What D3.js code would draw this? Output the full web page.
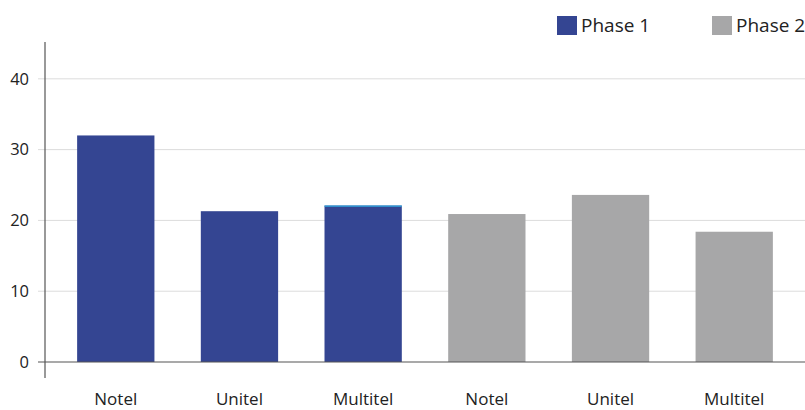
<!DOCTYPE html>
<html>
<head>
<meta charset="utf-8">
<script src="https://cdn.jsdelivr.net/npm/d3@7"></script>
<style>
  body { margin: 0; background: #fff; }
  svg { display: block; font-family: "Open Sans", "Noto Sans", sans-serif; }
</style>
</head>
<body>
<div id="chart"></div>
<script>
// data
const categories = ["Notel", "Unitel", "Multitel", "Notel", "Unitel", "Multitel"];
const phases = ["Phase 1", "Phase 1", "Phase 1", "Phase 2", "Phase 2", "Phase 2"];
const values = [32, 21.3, 22.1, 20.9, 23.6, 18.4];
const yTicks = [0, 10, 20, 30, 40];
const legendLabels = ["Phase 1", "Phase 2"];

const colors = { "Phase 1": "#344592", "Phase 2": "#a7a7a8" };

const svg = d3.select("#chart").append("svg")
    .attr("width", 805)
    .attr("height", 410);

const data = categories.map((c, i) => ({ key: i, name: c, phase: phases[i], value: values[i] }));

const x = d3.scaleBand()
    .domain(data.map(d => d.key))
    .range([54, 796])
    .paddingInner(0.375)
    .paddingOuter(0.187);

const y = d3.scaleLinear()
    .domain([0, 45.2])
    .range([362, 42]);

// gridlines
svg.append("g")
    .selectAll("line")
    .data(yTicks.filter(t => t > 0))
    .join("line")
    .attr("x1", 38)
    .attr("x2", 805)
    .attr("y1", d => y(d))
    .attr("y2", d => y(d))
    .attr("stroke", "#dcdcdc")
    .attr("stroke-width", 1);

// y tick labels
svg.append("g")
    .selectAll("text")
    .data(yTicks)
    .join("text")
    .attr("x", 29)
    .attr("y", d => y(d))
    .attr("dy", "0.35em")
    .attr("text-anchor", "end")
    .attr("fill", "#222")
    .style("font-size", "16.5px")
    .text(d => d);

// bars
svg.append("g")
    .selectAll("rect")
    .data(data)
    .join("rect")
    .attr("x", d => x(d.key))
    .attr("y", d => y(d.value))
    .attr("width", x.bandwidth())
    .attr("height", d => y(0) - y(d.value))
    .attr("fill", d => colors[d.phase]);

// thin light-blue edge on the third bar top
svg.append("line")
    .datum(data[2])
    .attr("x1", d => x(d.key))
    .attr("x2", d => x(d.key) + x.bandwidth())
    .attr("y1", d => y(d.value) + 0.5)
    .attr("y2", d => y(d.value) + 0.5)
    .attr("stroke", "#2fa8df")
    .attr("stroke-width", 1.2);

// axes lines
svg.append("line")
    .attr("x1", 38).attr("x2", 805)
    .attr("y1", y(0)).attr("y2", y(0))
    .attr("stroke", "#555").attr("stroke-width", 1.2);

svg.append("line")
    .attr("x1", 45).attr("x2", 45)
    .attr("y1", 42).attr("y2", 378)
    .attr("stroke", "#555").attr("stroke-width", 1.2);

// category labels
svg.append("g")
    .selectAll("text")
    .data(data)
    .join("text")
    .attr("x", d => x(d.key) + x.bandwidth() / 2)
    .attr("y", 405)
    .attr("text-anchor", "middle")
    .attr("fill", "#222")
    .style("font-size", "17px")
    .text(d => d.name);

// legend
const legend = svg.append("g").selectAll("g")
    .data(legendLabels)
    .join("g")
    .attr("transform", (d, i) => `translate(${557 + i * 155}, 16)`);

legend.append("rect")
    .attr("width", 20)
    .attr("height", 19)
    .attr("fill", d => colors[d]);

legend.append("text")
    .attr("x", 24)
    .attr("y", 16)
    .attr("fill", "#222")
    .style("font-size", "19px")
    .text(d => d);
</script>
</body>
</html>
